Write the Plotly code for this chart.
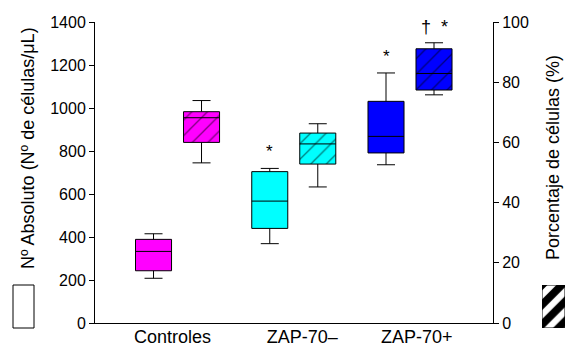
import plotly.graph_objects as go

# Groups and x-axis labels
groups = ["Controles", "ZAP-70\u2013", "ZAP-70+"]
group_pos = [0, 1, 2]
label_pos = [-0.043, 1.073, 2.058]
colors = ["#FF00FF", "#00FFFF", "#0000FF"]

# Absolute count (cells/uL): lower whisker, Q1, median, Q3, upper whisker
abs_low = [208, 369, 736]
abs_q1 = [243, 440, 791]
abs_med = [333, 567, 868]
abs_q3 = [389, 704, 1031]
abs_high = [415, 719, 1163]

# Percentage of cells (%)
pct_low = [53.2, 45.2, 75.8]
pct_q1 = [60.0, 52.8, 77.4]
pct_med = [68.2, 59.5, 82.9]
pct_q3 = [70.2, 63.1, 91.1]
pct_high = [73.9, 66.2, 93.1]

# Significance marks
abs_marks = ["", "*", "*"]
pct_marks = ["", "", "\u2020  *"]

W, H = 565, 347
FONT = "Liberation Sans, Arial, sans-serif"
off = 0.2065
bw = 0.31

fig = go.Figure()

for i in range(3):
    xa = group_pos[i] - off
    xp = group_pos[i] + off
    # solid box: absolute counts
    fig.add_trace(go.Box(
        x=[xa], q1=[abs_q1[i]], median=[abs_med[i]], q3=[abs_q3[i]],
        lowerfence=[abs_low[i]], upperfence=[abs_high[i]],
        width=bw, whiskerwidth=0.5, fillcolor=colors[i],
        line=dict(color="black", width=1), yaxis="y", showlegend=False,
        hoverinfo="skip"))
    # hatched box body: percentage
    fig.add_trace(go.Bar(
        x=[xp], base=[pct_q1[i]], y=[pct_q3[i] - pct_q1[i]], width=bw,
        yaxis="y2", showlegend=False, hoverinfo="skip",
        marker=dict(color=colors[i], line=dict(width=0),
                    pattern=dict(shape="/", fgcolor="black", size=11,
                                 solidity=0.12, fillmode="overlay"))))
    fig.add_trace(go.Box(
        x=[xp], q1=[pct_q1[i]], median=[pct_med[i]], q3=[pct_q3[i]],
        lowerfence=[pct_low[i]], upperfence=[pct_high[i]],
        width=bw, whiskerwidth=0.5, fillcolor="rgba(0,0,0,0)",
        line=dict(color="black", width=1), yaxis="y2", showlegend=False,
        hoverinfo="skip"))
    if abs_marks[i]:
        fig.add_annotation(x=xa, y=abs_high[i], yref="y", text=abs_marks[i],
                           showarrow=False, yanchor="bottom", yshift=5,
                           font=dict(size=17, color="black", family=FONT))
    if pct_marks[i]:
        fig.add_annotation(x=xp, y=pct_high[i], yref="y2", text=pct_marks[i],
                           showarrow=False, yanchor="bottom", yshift=4,
                           font=dict(size=18, color="black", family=FONT))

# hatched legend swatch at the right edge
fig.add_trace(go.Bar(
    x=[0], y=[1], width=1, xaxis="x3", yaxis="y3", showlegend=False,
    hoverinfo="skip",
    marker=dict(color="white", line=dict(color="black", width=1),
                pattern=dict(shape="/", fgcolor="black", fgopacity=1, size=14,
                             solidity=0.55, fillmode="overlay"))))

x0, x1 = 95 / W, 493 / W
y0, y1 = 1 - 323 / H, 1 - 22 / H

# axis titles, placed as rotated text
fig.add_annotation(x=28 / W, y=1 - 148 / H, xref="paper", yref="paper",
                   text="N\u00ba Absoluto (N\u00ba de c\u00e9lulas/\u03bcL)",
                   textangle=-90, showarrow=False,
                   xanchor="center", yanchor="middle",
                   font=dict(size=18, color="black", family=FONT))
fig.add_annotation(x=553 / W, y=1 - 158 / H, xref="paper", yref="paper",
                   text="Porcentaje de c\u00e9lulas (%)",
                   textangle=-90, showarrow=False,
                   xanchor="center", yanchor="middle",
                   font=dict(size=18, color="black", family=FONT))

axis_common = dict(showgrid=False, zeroline=False, showline=True,
                   linecolor="black", linewidth=1, automargin=False,
                   fixedrange=True)

fig.update_layout(
    width=W, height=H,
    margin=dict(l=0, r=0, t=0, b=0, autoexpand=False),
    paper_bgcolor="white", plot_bgcolor="white",
    boxmode="overlay", barmode="overlay",
    font=dict(family=FONT, size=16, color="black"),
    xaxis=dict(domain=[x0, x1], range=[-0.71, 2.714],
               tickmode="array", tickvals=label_pos, ticktext=groups,
               ticks="", tickfont=dict(size=18), ticklabelstandoff=-3,
               **axis_common),
    yaxis=dict(domain=[y0, y1], range=[0, 1400], tickvals=list(range(0, 1401, 200)),
               ticks="outside", ticklen=5, tickcolor="black",
               tickfont=dict(size=16), **axis_common),
    yaxis2=dict(domain=[y0, y1], range=[0, 100], tickvals=list(range(0, 101, 20)),
                overlaying="y", side="right", anchor="x",
                ticks="outside", ticklen=5, tickcolor="black",
                tickfont=dict(size=16), **axis_common),
    xaxis3=dict(domain=[542 / W, 1.0], range=[-0.5, 0.5], visible=False,
                fixedrange=True),
    yaxis3=dict(domain=[1 - 328 / H, 1 - 285 / H], range=[0, 1], visible=False,
                anchor="x3", fixedrange=True),
    shapes=[dict(type="rect", xref="paper", yref="paper",
                 x0=13 / W, x1=34 / W, y0=1 - 328 / H, y1=1 - 285 / H,
                 line=dict(color="black", width=1), fillcolor="white")],
)

fig.write_html("out.html")
